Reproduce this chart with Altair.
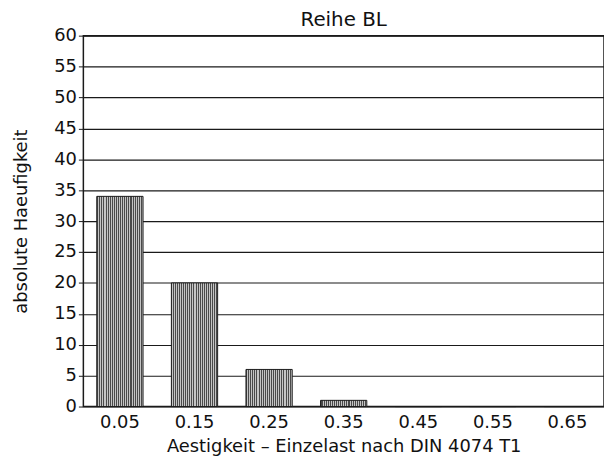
import altair as alt
import pandas as pd

categories = ["0.05", "0.15", "0.25", "0.35", "0.45", "0.55", "0.65"]
counts = [34, 20, 6, 1, 0, 0, 0]
y_ticks = list(range(0, 61, 5))

df = pd.DataFrame({"klasse": categories, "anzahl": counts})

FONT = "DejaVu Sans"

# fine hatch to imitate the printed cross-hatch texture
n_stripes = 24
stops = []
for k in range(n_stripes):
    a = k / n_stripes
    b = (k + 0.5) / n_stripes
    c = (k + 1) / n_stripes
    stops += [
        alt.GradientStop(offset=a, color="#4a4a4a"),
        alt.GradientStop(offset=b, color="#4a4a4a"),
        alt.GradientStop(offset=b, color="#c4c4c4"),
        alt.GradientStop(offset=c, color="#c4c4c4"),
    ]
hatch = alt.LinearGradient(gradient="linear", stops=stops, x1=0, x2=1, y1=0, y2=0)

chart = alt.Chart(df).mark_bar(
    fill=hatch, stroke="#1a1a1a", strokeWidth=1
).encode(
    x=alt.X("klasse:N", sort=categories,
            scale=alt.Scale(paddingInner=0.38, paddingOuter=0.18),
            axis=alt.Axis(title="Aestigkeit  –  Einzelast nach DIN 4074 T1",
                          labelAngle=0, ticks=False, labelPadding=7,
                          titlePadding=6, domain=False)),
    y=alt.Y("anzahl:Q", scale=alt.Scale(domain=[0, 60], nice=False),
            axis=alt.Axis(title="absolute Haeufigkeit", values=y_ticks,
                          grid=True, gridColor="#1a1a1a", gridWidth=1.1,
                          gridOpacity=1, tickColor="#1a1a1a", tickSize=5,
                          labelPadding=2, titlePadding=23, domain=False)),
).properties(
    width=525, height=374,
    padding={"left": 5, "top": 0, "right": 0, "bottom": 0},
    title=alt.TitleParams("Reihe BL", fontSize=20, font=FONT,
                          fontWeight="normal", color="#111111", offset=-3),
).configure_axis(
    labelFont=FONT, titleFont=FONT, labelFontSize=18, titleFontSize=18,
    labelColor="#111111", titleColor="#111111", titleFontWeight="normal",
).configure_view(
    stroke="#1a1a1a", strokeWidth=1.5
)

chart.save("out.html", embed_options={"renderer": "svg", "actions": False})
